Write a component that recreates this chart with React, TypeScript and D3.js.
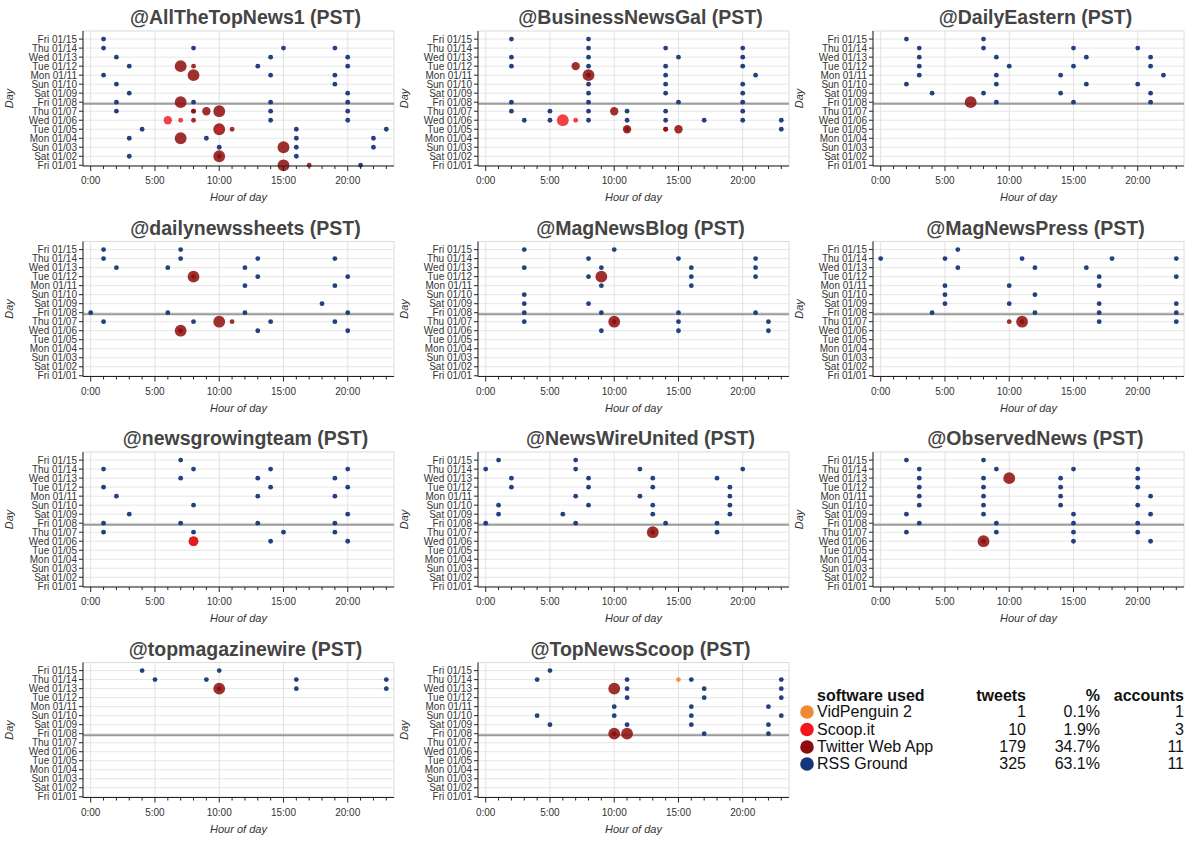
import React from "react";
import * as d3 from "d3";

type Sw = "V" | "S" | "T" | "R";
type Dot = [Sw, number, number, number]; // software, hour (PST), day of January, tweets

const accountNames = [
  "@AllTheTopNews1", "@BusinessNewsGal", "@DailyEastern",
  "@dailynewssheets", "@MagNewsBlog", "@MagNewsPress",
  "@newsgrowingteam", "@NewsWireUnited", "@ObservedNews",
  "@topmagazinewire", "@TopNewsScoop",
];

const dayValues = [1, 2, 3, 4, 5, 6, 7, 8, 9, 10, 11, 12, 13, 14, 15];
const dayLabels = [
  "Fri 01/01", "Sat 01/02", "Sun 01/03", "Mon 01/04", "Tue 01/05", "Wed 01/06", "Thu 01/07",
  "Fri 01/08", "Sat 01/09", "Sun 01/10", "Mon 01/11", "Tue 01/12", "Wed 01/13", "Thu 01/14", "Fri 01/15",
];
const hourMajor = [0, 5, 10, 15, 20];
const hourMajorLabels = ["0:00", "5:00", "10:00", "15:00", "20:00"];
const hourMinor = [0, 1, 2, 3, 4, 5, 6, 7, 8, 9, 10, 11, 12, 13, 14, 15, 16, 17, 18, 19, 20, 21, 22, 23];
const markerDay = 7.82;

const softwareKeys: Sw[] = ["V", "S", "T", "R"];
const softwareNames = ["VidPenguin 2", "Scoop.it", "Twitter Web App", "RSS Ground"];
const softwareTweets = [1, 10, 179, 325];
const softwarePct = ["0.1%", "1.9%", "34.7%", "63.1%"];
const softwareAccounts = [1, 3, 11, 11];
const softwareColors = ["#ef8a34", "#f3161d", "#8e0c0c", "#17367a"];

const dotsAllTheTopNews1: Dot[] = [
  ["R",1,15,1],["R",1,14,1],["R",8,14,1],["R",15,14,1],["R",19,14,1],["R",2,13,1],["R",14,13,1],["R",20,13,1],
  ["R",3,12,1],["R",13,12,1],["R",20,12,1],["R",1,11,1],["R",14,11,1],["R",19,11,1],["R",2,10,1],["R",19,10,1],
  ["R",3,9,1],["R",20,9,1],["R",2,8,1],["R",8,8,1],["R",14,8,1],["R",20,8,1],["R",2,7,1],["R",14,7,1],["R",20,7,1],
  ["R",14,6,1],["R",20,6,1],["R",4,5,1],["R",16,5,1],["R",23,5,1],["R",3,4,1],["R",9,4,1],["R",16,4,1],["R",22,4,1],
  ["R",10,3,1],["R",16,3,1],["R",22,3,1],["R",3,2,1],["R",16,2,1],["R",21,1,1],
  ["T",7,12,6],["T",8,12,1],["T",8,11,6],["T",7,8,6],["T",8,7,1],["T",8,7,1],["T",9,7,3],["T",10,7,6],["T",8,6,1],
  ["T",10,5,6],["T",11,5,1],["T",7,4,6],["T",10,2,6],["T",10,2,1],["T",15,3,6],["T",15,1,6],["T",17,1,1],
  ["S",6,6,3],["S",7,6,1],["S",10,5,1],
];
const dotsBusinessNewsGal: Dot[] = [
  ["R",2,15,1],["R",8,15,1],["R",8,14,1],["R",14,14,1],["R",20,14,1],["R",2,13,1],["R",8,13,1],["R",15,13,1],["R",20,13,1],
  ["R",2,12,1],["R",8,12,1],["R",14,12,1],["R",20,12,1],["R",8,11,1],["R",14,11,1],["R",21,11,1],["R",8,10,1],["R",14,10,1],
  ["R",20,10,1],["R",8,9,1],["R",14,9,1],["R",20,9,1],["R",2,8,1],["R",8,8,1],["R",15,8,1],["R",20,8,1],["R",2,7,1],
  ["R",5,7,1],["R",8,7,1],["R",11,7,1],["R",14,7,1],["R",20,7,1],["R",3,6,1],["R",5,6,1],["R",8,6,1],["R",11,6,1],
  ["R",14,6,1],["R",17,6,1],["R",20,6,1],["R",23,6,1],["R",23,5,1],
  ["T",7,12,3],["T",8,11,6],["T",10,7,3],["T",11,5,3],["T",11,5,1],["T",14,5,1],["T",14,5,1],["T",15,5,3],
  ["S",6,6,6],["S",7,6,1],
];
const dotsDailyEastern: Dot[] = [
  ["R",2,15,1],["R",8,15,1],["R",3,14,1],["R",8,14,1],["R",15,14,1],["R",20,14,1],["R",3,13,1],["R",9,13,1],["R",16,13,1],
  ["R",21,13,1],["R",3,12,1],["R",10,12,1],["R",15,12,1],["R",21,12,1],["R",3,11,1],["R",9,11,1],["R",14,11,1],["R",22,11,1],
  ["R",2,10,1],["R",9,10,1],["R",16,10,1],["R",20,10,1],["R",4,9,1],["R",8,9,1],["R",14,9,1],["R",21,9,1],["R",9,8,1],
  ["R",15,8,1],["R",21,8,1],
  ["T",7,8,6],
];
const dotsDailyNewsSheets: Dot[] = [
  ["R",1,15,1],["R",7,15,1],["R",1,14,1],["R",7,14,1],["R",13,14,1],["R",19,14,1],["R",2,13,1],["R",6,13,1],["R",12,13,1],
  ["R",13,12,1],["R",20,12,1],["R",12,11,1],["R",19,11,1],["R",18,9,1],["R",0,8,1],["R",6,8,1],["R",12,8,1],["R",20,8,1],
  ["R",1,7,1],["R",8,7,1],["R",14,7,1],["R",19,7,1],["R",13,6,1],["R",20,6,1],
  ["T",8,12,6],["T",8,12,1],["T",7,6,6],["T",7,6,1],["T",10,7,6],["T",11,7,1],
];
const dotsMagNewsBlog: Dot[] = [
  ["R",3,15,1],["R",10,15,1],["R",8,14,1],["R",15,14,1],["R",21,14,1],["R",3,13,1],["R",9,13,1],["R",16,13,1],["R",21,13,1],
  ["R",8,12,1],["R",16,12,1],["R",21,12,1],["R",9,11,1],["R",16,11,1],["R",3,10,1],["R",3,9,1],["R",8,9,1],["R",3,8,1],
  ["R",9,8,1],["R",15,8,1],["R",21,8,1],["R",3,7,1],["R",15,7,1],["R",22,7,1],["R",9,6,1],["R",15,6,1],["R",22,6,1],
  ["T",9,12,6],["T",10,7,6],["T",10,7,1],
];
const dotsMagNewsPress: Dot[] = [
  ["R",6,15,1],["R",0,14,1],["R",5,14,1],["R",11,14,1],["R",18,14,1],["R",23,14,1],["R",6,13,1],["R",12,13,1],["R",16,13,1],
  ["R",17,12,1],["R",23,12,1],["R",5,11,1],["R",10,11,1],["R",17,11,1],["R",5,10,1],["R",12,10,1],["R",5,9,1],["R",10,9,1],
  ["R",17,9,1],["R",23,9,1],["R",4,8,1],["R",12,8,1],["R",17,8,1],["R",23,8,1],["R",17,7,1],["R",23,7,1],
  ["T",10,7,1],["T",11,7,6],["T",11,7,1],
];
const dotsNewsGrowingTeam: Dot[] = [
  ["R",7,15,1],["R",1,14,1],["R",8,14,1],["R",14,14,1],["R",20,14,1],["R",7,13,1],["R",13,13,1],["R",19,13,1],["R",1,12,1],
  ["R",14,12,1],["R",20,12,1],["R",2,11,1],["R",13,11,1],["R",19,11,1],["R",8,10,1],["R",3,9,1],["R",20,9,1],["R",1,8,1],
  ["R",7,8,1],["R",13,8,1],["R",19,8,1],["R",1,7,1],["R",8,7,1],["R",15,7,1],["R",19,7,1],["R",14,6,1],["R",20,6,1],
  ["T",8,6,4],["S",8,6,4],
];
const dotsNewsWireUnited: Dot[] = [
  ["R",1,15,1],["R",7,15,1],["R",0,14,1],["R",7,14,1],["R",12,14,1],["R",20,14,1],["R",2,13,1],["R",8,13,1],["R",13,13,1],
  ["R",18,13,1],["R",2,12,1],["R",8,12,1],["R",13,12,1],["R",19,12,1],["R",7,11,1],["R",12,11,1],["R",19,11,1],["R",1,10,1],
  ["R",8,10,1],["R",13,10,1],["R",19,10,1],["R",1,9,1],["R",6,9,1],["R",13,9,1],["R",19,9,1],["R",0,8,1],["R",7,8,1],
  ["R",14,8,1],["R",18,8,1],["R",18,7,1],
  ["T",13,7,6],["T",13,7,1],
];
const dotsObservedNews: Dot[] = [
  ["R",2,15,1],["R",8,15,1],["R",3,14,1],["R",9,14,1],["R",15,14,1],["R",20,14,1],["R",3,13,1],["R",8,13,1],["R",14,13,1],
  ["R",20,13,1],["R",3,12,1],["R",8,12,1],["R",14,12,1],["R",20,12,1],["R",3,11,1],["R",8,11,1],["R",14,11,1],["R",21,11,1],
  ["R",3,10,1],["R",8,10,1],["R",14,10,1],["R",20,10,1],["R",2,9,1],["R",8,9,1],["R",15,9,1],["R",21,9,1],["R",3,8,1],
  ["R",9,8,1],["R",15,8,1],["R",20,8,1],["R",2,7,1],["R",9,7,1],["R",15,7,1],["R",20,7,1],["R",15,6,1],["R",21,6,1],
  ["T",10,13,6],["T",8,6,6],["T",8,6,1],
];
const dotsTopMagazineWire: Dot[] = [
  ["R",4,15,1],["R",10,15,1],["R",5,14,1],["R",9,14,1],["R",16,14,1],["R",23,14,1],["R",16,13,1],["R",23,13,1],
  ["T",10,13,6],["T",10,13,1],
];
const dotsTopNewsScoop: Dot[] = [
  ["R",5,15,1],["R",4,14,1],["R",11,14,1],["R",16,14,1],["R",23,14,1],["R",11,13,1],["R",17,13,1],["R",23,13,1],
  ["R",11,12,1],["R",17,12,1],["R",23,12,1],["R",10,11,1],["R",16,11,1],["R",22,11,1],["R",4,10,1],["R",10,10,1],
  ["R",16,10,1],["R",23,10,1],["R",5,9,1],["R",11,9,1],["R",16,9,1],["R",22,9,1],["R",17,8,1],["R",22,8,1],
  ["V",15,14,1],
  ["T",10,13,6],["T",10,8,6],["T",10,8,1],["T",11,8,6],
];

const accountDots = [
  dotsAllTheTopNews1, dotsBusinessNewsGal, dotsDailyEastern,
  dotsDailyNewsSheets, dotsMagNewsBlog, dotsMagNewsPress,
  dotsNewsGrowingTeam, dotsNewsWireUnited, dotsObservedNews,
  dotsTopMagazineWire, dotsTopNewsScoop,
];

const FONT = "'Liberation Sans', Arial, Helvetica, sans-serif";
const drawOrder: Sw[] = ["R", "T", "S", "V"];
const colorOf = (s: Sw) => softwareColors[softwareKeys.indexOf(s)];
const opacityOf: Record<Sw, number> = { R: 0.95, T: 0.85, S: 0.82, V: 0.9 };

const rScale = d3.scaleSqrt().domain([0, 6]).range([0, 5.9]);

function Panel({ index }: { index: number }) {
  const col = index % 3;
  const row = Math.floor(index / 3);
  const x = d3.scaleLinear().domain([-0.6, 23.6]).range([83 + col * 395, 394 + col * 395]);
  const y = d3.scaleLinear().domain([0.92, 15.9]).range([166 + row * 210.5, 31 + row * 210.5]);
  const [x0, x1] = x.range();
  const [yb, yt] = y.range();
  const dots = [...accountDots[index]].sort(
    (a, b) => drawOrder.indexOf(a[0]) - drawOrder.indexOf(b[0]) || b[3] - a[3]
  );
  return (
    <g>
      <rect x={x0} y={yt} width={x1 - x0} height={yb - yt} fill="#fff" stroke="#dcdcdc" />
      {dayValues.map((d) => (
        <line key={"hg" + d} x1={x0} x2={x1} y1={y(d)} y2={y(d)} stroke="#e6e6e6" />
      ))}
      {hourMajor.map((h) => (
        <line key={"vg" + h} x1={x(h)} x2={x(h)} y1={yt} y2={yb} stroke="#e2e2e2" />
      ))}
      <line x1={x0} x2={x1} y1={y(markerDay)} y2={y(markerDay)} stroke="#9a9a9a" strokeWidth={2} />
      {dots.map((p, i) => (
        <circle
          key={i}
          cx={x(p[1])}
          cy={y(p[2])}
          r={rScale(p[3])}
          fill={colorOf(p[0])}
          fillOpacity={opacityOf[p[0]]}
        />
      ))}
      <line x1={x0} x2={x0} y1={yt} y2={yb} stroke="#222" />
      <line x1={x0} x2={x1} y1={yb} y2={yb} stroke="#222" />
      {dayValues.map((d, i) => (
        <g key={"yt" + d}>
          <line x1={x0 - 4} x2={x0} y1={y(d)} y2={y(d)} stroke="#222" />
          <text x={x0 - 6} y={y(d) + 3.5} fontSize={10} textAnchor="end" fill="#333" fontFamily={FONT}>
            {dayLabels[i]}
          </text>
        </g>
      ))}
      {hourMinor.map((h) => (
        <line key={"xm" + h} x1={x(h)} x2={x(h)} y1={yb} y2={yb + (h % 5 === 0 ? 5 : 3)} stroke="#222" />
      ))}
      {hourMajor.map((h, i) => (
        <text key={"xl" + h} x={x(h)} y={yb + 18} fontSize={10} textAnchor="middle" fill="#333" fontFamily={FONT}>
          {hourMajorLabels[i]}
        </text>
      ))}
      <text x={(x0 + x1) / 2} y={yb + 35} fontSize={11} fontStyle="italic" textAnchor="middle" fill="#333" fontFamily={FONT}>
        Hour of day
      </text>
      <text
        transform={`translate(${x0 - 70},${(yt + yb) / 2}) rotate(-90)`}
        fontSize={11}
        fontStyle="italic"
        textAnchor="middle"
        fill="#333"
        fontFamily={FONT}
      >
        Day
      </text>
      <text x={(x0 + x1) / 2 + 7} y={yt - 7} fontSize={19.5} fontWeight="bold" textAnchor="middle" fill="#444" fontFamily={FONT}>
        {accountNames[index]} (PST)
      </text>
    </g>
  );
}

function Legend() {
  const rowY = [717, 734.5, 752, 769];
  return (
    <g fontFamily={FONT} fontSize={16} fill="#111">
      <text x={817} y={701} fontWeight="bold">software used</text>
      <text x={1026} y={701} fontWeight="bold" textAnchor="end">tweets</text>
      <text x={1100} y={701} fontWeight="bold" textAnchor="end">%</text>
      <text x={1184} y={701} fontWeight="bold" textAnchor="end">accounts</text>
      {softwareNames.map((name, i) => (
        <g key={name}>
          <circle cx={807} cy={rowY[i] - 5} r={6.8} fill={softwareColors[i]} />
          <text x={817} y={rowY[i]}>{name}</text>
          <text x={1026} y={rowY[i]} textAnchor="end">{softwareTweets[i]}</text>
          <text x={1100} y={rowY[i]} textAnchor="end">{softwarePct[i]}</text>
          <text x={1184} y={rowY[i]} textAnchor="end">{softwareAccounts[i]}</text>
        </g>
      ))}
    </g>
  );
}

export default function App() {
  return (
    <svg
      width={1200}
      height={842}
      style={{ position: "absolute", left: 0, top: 0, background: "#fff" }}
      xmlns="http://www.w3.org/2000/svg"
    >
      <rect width={1200} height={842} fill="#fff" />
      {accountNames.map((_, i) => (
        <Panel key={i} index={i} />
      ))}
      <Legend />
    </svg>
  );
}
